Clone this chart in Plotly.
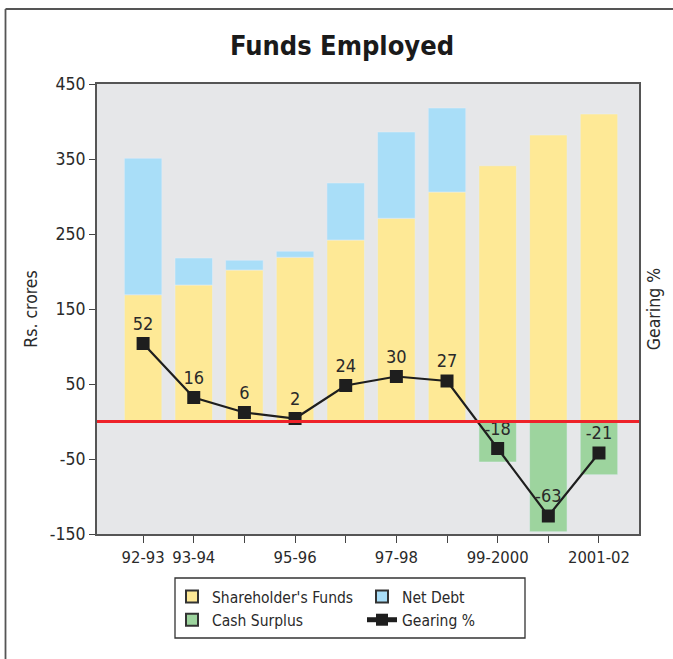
import plotly.graph_objects as go

# ---- data ----
periods = ["92-93", "93-94", "94-95", "95-96", "96-97", "97-98", "98-99", "99-2000", "2000-01", "2001-02"]
tick_labels = ["92-93", "93-94", "", "95-96", "", "97-98", "", "99-2000", "", "2001-02"]
shareholders_funds = [169, 182, 202, 219, 242, 271, 306, 341, 382, 410]
net_debt = [182, 36, 13, 8, 76, 115, 112, None, None, None]
cash_surplus = [None, None, None, None, None, None, None, -54, -147, -71]
gearing = [52, 16, 6, 2, 24, 30, 27, -18, -63, -21]
y_ticks = [-150, -50, 50, 150, 250, 350, 450]
y_tick_text = ["-150", "-50", "50", "150", "250", "350", "450"]

FONT = "DejaVu Sans Condensed, Liberation Sans Narrow, Arial Narrow, sans-serif"
C_SF = "#FEE996"
C_ND = "#A9DEF8"
C_CS = "#9DD49E"
TXT = "#2a2a2a"

# plot area in pixels (for paper conversions)
W, H = 673, 659
PL, PR, PT, PB = 97, 639, 84, 534
def px(x):
    return (x - PL) / (PR - PL)
def py(y):
    return (PB - y) / (PB - PT)

fig = go.Figure()
bw = 0.74
fig.add_trace(go.Bar(x=periods, y=shareholders_funds, marker_color=C_SF, width=bw,
                     showlegend=False, name="Shareholder's Funds"))
fig.add_trace(go.Bar(x=periods, y=net_debt, marker_color=C_ND, width=bw,
                     showlegend=False, name="Net Debt"))
fig.add_trace(go.Bar(x=periods, y=cash_surplus, marker_color=C_CS, width=bw,
                     showlegend=False, name="Cash Surplus"))
fig.add_trace(go.Scatter(x=periods, y=gearing, yaxis="y2", mode="lines+markers+text",
                         line=dict(color="#1e1e1e", width=2.2),
                         marker=dict(symbol="square", size=13, color="#1e1e1e"),
                         text=[str(g) for g in gearing], textposition="top center",
                         textfont=dict(family=FONT, size=18, color=TXT),
                         showlegend=False, name="Gearing %", cliponaxis=False))

# legend entries (two columns)
def sw(name, color, legend):
    fig.add_trace(go.Scatter(x=[None], y=[None], mode="markers", name=name, legend=legend,
                             marker=dict(symbol="square", size=13, color=color,
                                         line=dict(color="#333", width=1.3))))
sw("Shareholder's Funds", C_SF, "legend")
sw("Cash Surplus", C_CS, "legend")
sw("Net Debt", C_ND, "legend2")
fig.add_trace(go.Scatter(x=[None], y=[None], mode="lines+markers", name="Gearing %", legend="legend2",
                         line=dict(color="#1e1e1e", width=2.5),
                         marker=dict(symbol="square", size=12, color="#1e1e1e")))

leg_common = dict(font=dict(family=FONT, size=15.5, color=TXT), bgcolor="rgba(0,0,0,0)",
                  orientation="v", tracegroupgap=0, itemsizing="constant",
                  xanchor="left", yanchor="top")
fig.update_layout(
    width=W, height=H,
    margin=dict(l=PL, r=W - PR, t=PT, b=H - PB),
    paper_bgcolor="white", plot_bgcolor="#E6E7E9",
    barmode="relative",
    title=dict(text="Funds Employed", x=342 / W, xanchor="center",
               y=1 - 46 / H, yanchor="middle",
               font=dict(family=FONT, size=27, color="#1a1a1a", weight="bold")),
    xaxis=dict(type="category", range=[-0.91, 9.79], tickvals=periods, ticktext=tick_labels,
               ticks="outside", ticklen=7, tickcolor="#444", tickwidth=1.3,
               showline=True, linecolor="#555", linewidth=2, mirror=True, showgrid=False,
               tickfont=dict(family=FONT, size=16.5, color=TXT)),
    yaxis=dict(range=[-150, 450], tickvals=y_ticks, ticktext=y_tick_text, ticks="outside", ticklen=6,
               tickcolor="#444", tickwidth=1.3, showgrid=False, zeroline=False,
               showline=True, linecolor="#555", linewidth=2, mirror=True,
               tickfont=dict(family=FONT, size=17.5, color=TXT),
               title=dict(text="Rs. crores", standoff=8, font=dict(family=FONT, size=17.5, color=TXT))),
    yaxis2=dict(range=[-75, 225], overlaying="y", side="right", showgrid=False, zeroline=False,
                showticklabels=False, ticks="",
                title=dict(text="Gearing %", standoff=8, font=dict(family=FONT, size=17.5, color=TXT))),
    legend=dict(x=px(172), y=py(580), **leg_common),
    legend2=dict(x=px(362), y=py(580), **leg_common),
    shapes=[
        dict(type="line", xref="paper", yref="y", x0=0, x1=1, y0=0, y1=0,
             line=dict(color="#EE2229", width=3), layer="above"),
        dict(type="rect", xref="paper", yref="paper", x0=px(175), x1=px(525), y0=py(638), y1=py(578),
             line=dict(color="#333", width=1.3), fillcolor="rgba(0,0,0,0)"),
        dict(type="line", xref="paper", yref="paper", x0=px(5.5), x1=px(680), y0=py(9), y1=py(9),
             line=dict(color="#555", width=1.8)),
        dict(type="line", xref="paper", yref="paper", x0=px(5.5), x1=px(5.5), y0=py(9), y1=py(670),
             line=dict(color="#555", width=1.8)),
    ],
)

fig.write_html("out.html")
